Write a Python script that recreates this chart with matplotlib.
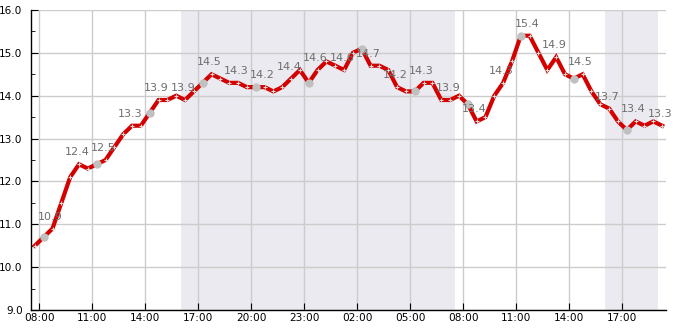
import matplotlib
matplotlib.use("Agg")
import matplotlib.pyplot as plt
import matplotlib.dates as mdates
import pandas as pd

plt.rcParams['font.family'] = ['DejaVu Sans']

start_time = "2024-01-01 07:45"
n_points = 72
values = [10.5, 10.7, 10.9, 11.5, 12.1, 12.4, 12.3, 12.4, 12.5, 12.8,
          13.1, 13.3, 13.3, 13.6, 13.9, 13.9, 14.0, 13.9, 14.1, 14.3,
          14.5, 14.4, 14.3, 14.3, 14.2, 14.2, 14.2, 14.1, 14.2, 14.4,
          14.6, 14.3, 14.6, 14.8, 14.7, 14.6, 15.0, 15.1, 14.7, 14.7,
          14.6, 14.2, 14.1, 14.1, 14.3, 14.3, 13.9, 13.9, 14.0, 13.8,
          13.4, 13.5, 14.0, 14.3, 14.8, 15.4, 15.4, 15.0, 14.6, 14.9,
          14.5, 14.4, 14.5, 14.1, 13.8, 13.7, 13.4, 13.2, 13.4, 13.3,
          13.4, 13.3]
shaded = [("2024-01-01 16:00", "2024-01-02 07:30"),
          ("2024-01-02 16:00", "2024-01-02 19:00")]
yticks = [9.0, 10.0, 11.0, 12.0, 13.0, 14.0, 15.0, 16.0]

times = pd.date_range(start_time, periods=n_points, freq="30min")

fig = plt.figure(figsize=(6.85, 3.3), dpi=100)
ax = fig.add_axes([31/685, 20/330, 635/685, 300/330])

for a, b in shaded:
    ax.axvspan(pd.Timestamp(a), pd.Timestamp(b), color="#eaeaf0", zorder=0, lw=0)

ax.plot(times, values, color="#d40000", lw=3, zorder=3, solid_joinstyle="miter")
ax.plot(times, values, ls="none", marker="+", ms=3, mew=0.8, color="#d8d8d8", zorder=4)
ax.plot(times[1::6], values[1::6], ls="none", marker="o", ms=5, color="#c0c0c0", zorder=5)

for t, v in zip(times[2::3], values[2::3]):
    ax.annotate(f"{v:.1f}", (mdates.date2num(t), v), xytext=(-1.5, 5),
                textcoords="offset points", ha="center", va="bottom",
                fontsize=8, color="#6e6e6e", zorder=6)

ax.set_ylim(9.0, 16.0)
ax.set_yticks(yticks)
ax.set_yticklabels([f"{y:.1f}" for y in yticks])
ax.yaxis.set_minor_locator(plt.MultipleLocator(0.5))
ax.set_xlim(times[0] - pd.Timedelta(minutes=13), times[-1] + pd.Timedelta(minutes=13))
ax.xaxis.set_major_locator(mdates.HourLocator(byhour=[2, 5, 8, 11, 14, 17, 20, 23]))
ax.xaxis.set_major_formatter(mdates.DateFormatter("%H:%M"))

ax.grid(True, which="major", color="#cccccc", lw=1)
ax.set_axisbelow(True)
for s in ["top", "right"]:
    ax.spines[s].set_visible(False)
ax.spines["left"].set_linewidth(1)
ax.spines["bottom"].set_linewidth(1)
ax.tick_params(axis="both", which="major", direction="in", length=5, labelsize=7.6)
ax.tick_params(axis="x", which="major", pad=2)
ax.tick_params(axis="y", which="major", pad=6)
ax.tick_params(axis="y", which="minor", direction="in", length=3)
ax.patch.set_alpha(0)

fig.savefig("out.png", dpi=100)
